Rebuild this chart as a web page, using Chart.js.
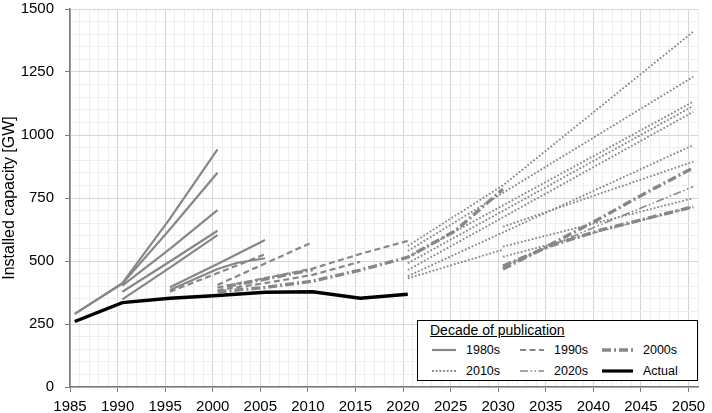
<!DOCTYPE html>
<html>
<head>
<meta charset="utf-8">
<script src="https://cdn.jsdelivr.net/npm/chart.js@4.4.1/dist/chart.umd.min.js"></script>
<style>
  body { margin: 0; background: #fff; font-family: "Liberation Sans", Arial, sans-serif; }
  #wrap { position: relative; width: 712px; height: 413px; }
  #legend { position: absolute; left: 417px; top: 320px; width: 279px; height: 59px;
            border: 1px solid #000; background: #fff; color: #000; }
  #legend .title { position: absolute; left: 12px; top: 1px; font-size: 14px; text-decoration: underline; }
  #legend .item { position: absolute; height: 18px; line-height: 18px; font-size: 12.5px; }
  #legend svg { position: absolute; left: 0; top: 6px; }
  #legend .item span { position: absolute; white-space: nowrap; }
</style>
</head>
<body>
<div id="wrap">
  <canvas id="chart"></canvas>
  <div id="legend"></div>
</div>
<script>
// values are plotted at mid-year
const MID = 0.5;

const actualYears = [1985, 1990, 1995, 2000, 2005, 2010, 2015, 2020];
const actualGW = [260, 335, 352, 363, 376, 378, 352, 368];

// projections published in the 1980s: [year, GW]
const p80a = [[1985, 290], [1990, 412], [1995, 668], [2000, 943]];
const p80b = [[1985, 290], [1990, 410], [1995, 626], [2000, 850]];
const p80c = [[1990, 402], [1995, 548], [2000, 702]];
const p80d = [[1990, 378], [1995, 498], [2000, 620]];
const p80e = [[1990, 348], [1995, 474], [2000, 603]];
const p80f = [[1995, 396], [2000, 488], [2005, 583]];
const p80g = [[1995, 385], [2000, 468], [2002, 492], [2005, 511]];

// 1990s
const p90a = [[1995, 378], [2000, 452], [2005, 527]];
const p90b = [[2000, 405], [2005, 490], [2010, 575]];
const p90c = [[2000, 395], [2005, 432], [2010, 470], [2015, 528], [2020, 580]];
const p90d = [[2000, 385], [2005, 412], [2010, 445], [2015, 497]];

// 2000s
const p00a = [[2000, 378], [2005, 395], [2010, 420], [2015, 464], [2020, 515], [2025, 620], [2030, 785]];
const p00b = [[2001, 400], [2005, 428], [2010, 466]];
const p00c = [[2030, 468], [2035, 565], [2040, 665], [2045, 770], [2050, 870]];
const p00d = [[2030, 480], [2035, 560], [2040, 620], [2045, 668], [2050, 715]];

// 2010s
const p10a = [[2020, 560], [2030, 800], [2040, 1105], [2050, 1410]];
const p10b = [[2020, 540], [2050, 1231]];
const p10c = [[2020, 515], [2050, 1132]];
const p10d = [[2020, 491], [2050, 1115]];
const p10e = [[2020, 464], [2050, 1092]];
const p10f = [[2020, 440], [2050, 960]];
const p10g = [[2030, 636], [2050, 894]];
const p10h = [[2030, 557], [2050, 749]];
const p10i = [[2030, 517], [2050, 715]];
const p10j = [[2020, 431], [2030, 545]];

// 2020s
const p20a = [[2030, 478], [2035, 560], [2040, 640], [2045, 718], [2050, 795]];

const decades = ['1980s', '1990s', '2000s', '2010s', '2020s'];
const groups = [
    [p80a, p80b, p80c, p80d, p80e, p80f, p80g],
    [p90a, p90b, p90c, p90d],
    [p00a, p00b, p00c, p00d],
    [p10a, p10b, p10c, p10d, p10e, p10f, p10g, p10h, p10i, p10j],
    [p20a],
];

const GREY = '#878787';
const styles = {
    '1980s': { dash: [], width: 2.2 },
    '1990s': { dash: [6, 3.5], width: 2.2 },
    '2000s': { dash: [9, 3, 2, 3], width: 3.4 },
    '2010s': { dash: [1.8, 1.9], width: 1.8 },
    '2020s': { dash: [8, 2.5, 1.5, 2.5, 1.5, 2.5], width: 1.5 },
};

const toPoints = (pairs) => pairs.map(([yr, gw]) => ({ x: yr + MID, y: gw }));

const datasets = [{
    label: 'Actual',
    data: actualYears.map((yr, i) => ({ x: yr + MID, y: actualGW[i] })),
    borderColor: '#000',
    borderWidth: 3.4,
    pointRadius: 0,
}];

decades.forEach((decade, d) => {
    groups[d].forEach((pairs) => {
        datasets.push({
            label: decade,
            data: toPoints(pairs),
            borderColor: GREY,
            borderWidth: styles[decade].width,
            borderDash: styles[decade].dash,
            pointRadius: 0,
        });
    });
});

Chart.defaults.font.family = '"Liberation Sans", Arial, sans-serif';
Chart.defaults.font.size = 15;
Chart.defaults.color = '#000';

const major = (v, step) => Math.abs(v % step) < 1e-9;

new Chart(document.getElementById('chart'), {
    type: 'line',
    data: { datasets: datasets },
    options: {
        animation: false,
        responsive: true,
        maintainAspectRatio: false,
        layout: { padding: { top: 9, right: 14, left: 0, bottom: 0 } },
        plugins: { legend: { display: false }, tooltip: { enabled: false } },
        scales: {
            x: {
                type: 'linear',
                min: 1985,
                max: 2051,
                afterFit: (s) => { s.height = 26; },
                ticks: {
                    stepSize: 1,
                    autoSkip: false,
                    maxRotation: 0,
                    padding: 6,
                    callback: (v) => (major(v, 5) ? String(v) : ''),
                },
                grid: {
                    color: (ctx) => (major(ctx.tick.value, 5) ? '#d6d6d6' : '#eeeeee'),
                    tickColor: (ctx) => (major(ctx.tick.value, 5) ? '#7a7a7a' : 'rgba(0,0,0,0)'),
                    tickLength: 5,
                },
                border: { color: '#7a7a7a', width: 1.6 },
            },
            y: {
                min: 0,
                max: 1500,
                // fixed axis width; the layout padding handles the top label
                afterFit: (s) => { s.width = 70; s.paddingTop = 0; s.paddingBottom = 0; },
                ticks: {
                    stepSize: 50,
                    autoSkip: false,
                    padding: 11,
                    callback: (v) => (major(v, 250) ? String(v) : ''),
                },
                title: { display: true, text: 'Installed capacity [GW]', padding: 0, font: { size: 16 } },
                grid: {
                    color: (ctx) => (major(ctx.tick.value, 250) ? '#d6d6d6' : '#eeeeee'),
                    tickColor: (ctx) => (major(ctx.tick.value, 250) ? '#7a7a7a' : 'rgba(0,0,0,0)'),
                    tickLength: 5,
                },
                border: { color: '#7a7a7a', width: 1.6 },
            },
        },
    },
});

// legend box
const legendItems = [
    { label: '1980s', col: 0, row: 0 },
    { label: '1990s', col: 1, row: 0 },
    { label: '2000s', col: 2, row: 0 },
    { label: '2010s', col: 0, row: 1 },
    { label: '2020s', col: 1, row: 1 },
    { label: 'Actual', col: 2, row: 1 },
];
const colX = [14, 102, 184];
const rowY = [20, 41];
const legend = document.getElementById('legend');
legend.innerHTML = '<div class="title">Decade of publication</div>' + legendItems.map((it) => {
    const st = styles[it.label] || { dash: [], width: 3.2 };
    const color = it.label === 'Actual' ? '#000' : GREY;
    const len = it.col === 2 ? 31 : 24;
    return `<div class="item" style="left:${colX[it.col]}px;top:${rowY[it.row]}px;">
        <svg width="${len}" height="6"><line x1="0" y1="3" x2="${len}" y2="3" stroke="${color}"
            stroke-width="${st.width}" stroke-dasharray="${st.dash.join(' ')}"/></svg>
        <span style="left:${len + 10}px;top:0;">${it.label}</span></div>`;
}).join('');
</script>
</body>
</html>
